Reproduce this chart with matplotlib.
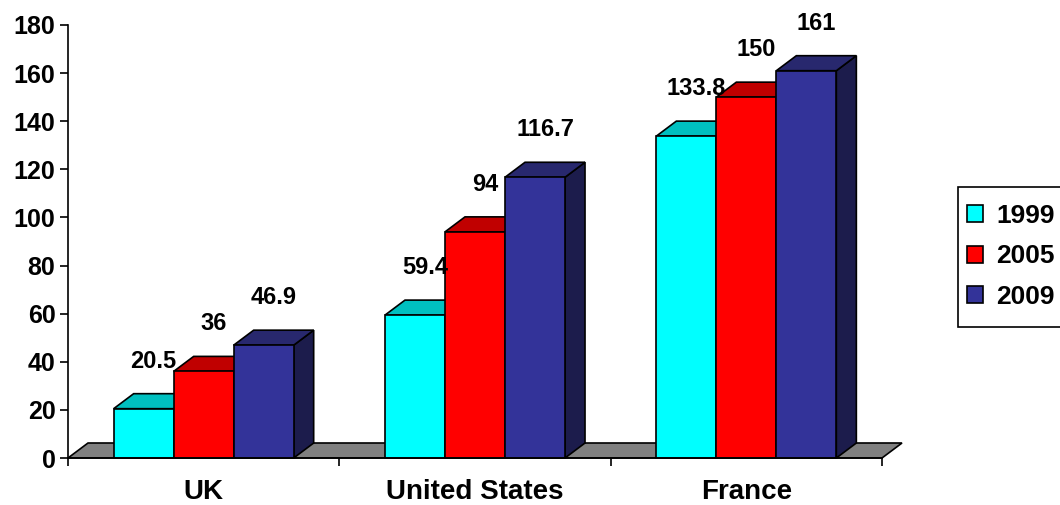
import matplotlib.pyplot as plt
from matplotlib.patches import Polygon, Patch, Rectangle

plt.rcParams['font.family'] = ['Liberation Sans', 'DejaVu Sans']
plt.rcParams['font.weight'] = 'bold'

countries = ['UK', 'United States', 'France']
years = ['1999', '2005', '2009']
v1999 = [20.5, 59.4, 133.8]
v2005 = [36, 94, 150]
v2009 = [46.9, 116.7, 161]
series = [v1999, v2005, v2009]

front_cols = ['#00FFFF', '#FF0000', '#333399']
top_cols = ['#00C0C0', '#C00000', '#28286E']
side_cols = ['#008080', '#800000', '#1C1C4C']

fig = plt.figure(figsize=(10.6, 5.05), dpi=100)
ax = fig.add_axes([68 / 1060, 47 / 505, 814 / 1060, 433 / 505])
ax.set_xlim(0, 3)
ax.set_ylim(0, 180)

# depth of the fake 3d effect, in data units
dx = 20 / 271.3
dy = 15 / 2.405
w = 60 / 271.3
lw = 1.2

# floor
floor = Polygon([(0, 0), (3, 0), (3 + dx, dy), (dx, dy)], closed=True,
                facecolor='#808080', edgecolor='black', lw=lw, clip_on=False, zorder=1)
ax.add_patch(floor)

for c in range(len(countries)):
    start = c + 0.5 - 1.5 * w
    for s in range(len(series)):
        v = series[s][c]
        x0 = start + s * w
        side = Polygon([(x0 + w, 0), (x0 + w + dx, dy), (x0 + w + dx, v + dy), (x0 + w, v)],
                       closed=True, facecolor=side_cols[s], edgecolor='black', lw=lw,
                       clip_on=False, zorder=2 + s)
        top = Polygon([(x0, v), (x0 + dx, v + dy), (x0 + w + dx, v + dy), (x0 + w, v)],
                      closed=True, facecolor=top_cols[s], edgecolor='black', lw=lw,
                      clip_on=False, zorder=2 + s)
        front = Polygon([(x0, 0), (x0 + w, 0), (x0 + w, v), (x0, v)],
                        closed=True, facecolor=front_cols[s], edgecolor='black', lw=lw,
                        clip_on=False, zorder=2 + s)
        ax.add_patch(side)
        ax.add_patch(top)
        ax.add_patch(front)
        lab = str(v)
        ax.text(x0 + w / 2 + dx / 2, v + dy + 13.5, lab, ha='center', va='center',
                fontsize=17, fontweight='bold', zorder=10, clip_on=False)

for sp in ['top', 'right']:
    ax.spines[sp].set_visible(False)
ax.spines['left'].set_linewidth(1.2)
ax.spines['bottom'].set_linewidth(1.2)
ax.spines['bottom'].set_zorder(6)

ax.set_yticks(range(0, 181, 20))
ax.set_yticklabels([str(t) for t in range(0, 181, 20)], fontsize=18, fontweight='bold')
ax.set_xticks([0, 1, 2, 3])
ax.set_xticklabels([])
ax.set_xticks([0.5, 1.5, 2.5], minor=True)
ax.set_xticklabels(countries, minor=True, fontsize=20, fontweight='bold')
ax.tick_params(axis='x', which='minor', length=0, pad=15)
ax.tick_params(axis='x', which='major', length=6, width=1.2, direction='out')
ax.tick_params(axis='y', length=6, width=1.2, direction='out', pad=3)

# legend box drawn by hand, runs off the right edge like the original
box = Rectangle((958 / 1060, 1 - 327 / 505), 120 / 1060, 140 / 505, transform=fig.transFigure,
                facecolor='white', edgecolor='black', lw=1.2, zorder=0)
fig.patches.append(box)

handles = [Patch(facecolor=front_cols[i], edgecolor='black', lw=1.2) for i in range(3)]
leg = fig.legend(handles, years, loc='upper left', bbox_to_anchor=(967 / 1060, 1 - 204 / 505),
                 frameon=False, prop={'size': 19, 'weight': 'bold'},
                 handlelength=0.62, handleheight=0.62, handletextpad=0.5, labelspacing=0.62,
                 borderpad=0, borderaxespad=0)

fig.savefig('out.png', dpi=100)
